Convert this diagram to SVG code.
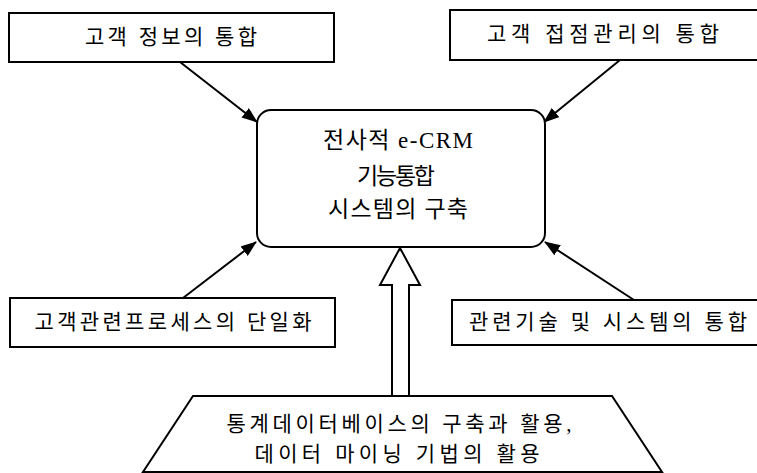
<svg xmlns="http://www.w3.org/2000/svg" width="757" height="473" viewBox="0 0 757 473">
<style>
.box{fill:#fff;stroke:#000;stroke-width:2}
.t{font-family:"Liberation Serif","Noto Sans CJK KR",serif;font-size:21px;fill:#000;text-anchor:middle;dominant-baseline:central}
.m{font-size:23px}
.c{stroke:#000;stroke-width:2;fill:none}
</style>
<defs>
<marker id="ah" viewBox="0 0 16 12" refX="15" refY="6" markerWidth="16" markerHeight="12" markerUnits="userSpaceOnUse" orient="auto">
<path d="M0,0 L16,6 L0,12 Z" fill="#000"/>
</marker>
</defs>
<rect width="757" height="473" fill="#fff"/>
<g id="connectors">
<line class="c" x1="180" y1="62" x2="257" y2="122" marker-end="url(#ah)"/>
<line class="c" x1="620" y1="60" x2="544" y2="122" marker-end="url(#ah)"/>
<line class="c" x1="183" y1="298" x2="256" y2="242" marker-end="url(#ah)"/>
<line class="c" x1="634" y1="300" x2="545" y2="242" marker-end="url(#ah)"/>
<path class="box" d="M392,396 L392,285 L380,285 L400,248 L420,285 L409,285 L409,396"/>
</g>
<g id="center">
<rect class="box" x="257" y="110" width="288" height="137" rx="14"/>
<text class="t m" x="398" y="140" textLength="150" lengthAdjust="spacing">전사적 e-CRM</text>
<text class="t m" x="396" y="176" textLength="78" lengthAdjust="spacing">기능통합</text>
<text class="t m" x="398" y="209" textLength="140" lengthAdjust="spacing">시스템의 구축</text>
</g>
<g id="n1">
<rect class="box" x="9" y="13" width="325" height="49"/>
<text class="t" x="171" y="37" textLength="172" lengthAdjust="spacing">고객 정보의 통합</text>
</g>
<g id="n2">
<rect class="box" x="450" y="10" width="320" height="50"/>
<text class="t" x="603" y="34" textLength="232" lengthAdjust="spacing">고객 접점관리의 통합</text>
</g>
<g id="n3">
<rect class="box" x="10" y="298" width="325" height="49"/>
<text class="t" x="173" y="322" textLength="277" lengthAdjust="spacing">고객관련프로세스의 단일화</text>
</g>
<g id="n4">
<rect class="box" x="452" y="300" width="320" height="45"/>
<text class="t" x="608" y="322" textLength="278" lengthAdjust="spacing">관련기술 및 시스템의 통합</text>
</g>
<g id="n5">
<path class="box" d="M193,396 L612,396 L662,472 L143,472 Z"/>
<text class="t" x="399" y="424" textLength="345" lengthAdjust="spacing">통계데이터베이스의 구축과 활용,</text>
<text class="t" x="397" y="454" textLength="285" lengthAdjust="spacing">데이터 마이닝 기법의 활용</text>
</g>
</svg>
